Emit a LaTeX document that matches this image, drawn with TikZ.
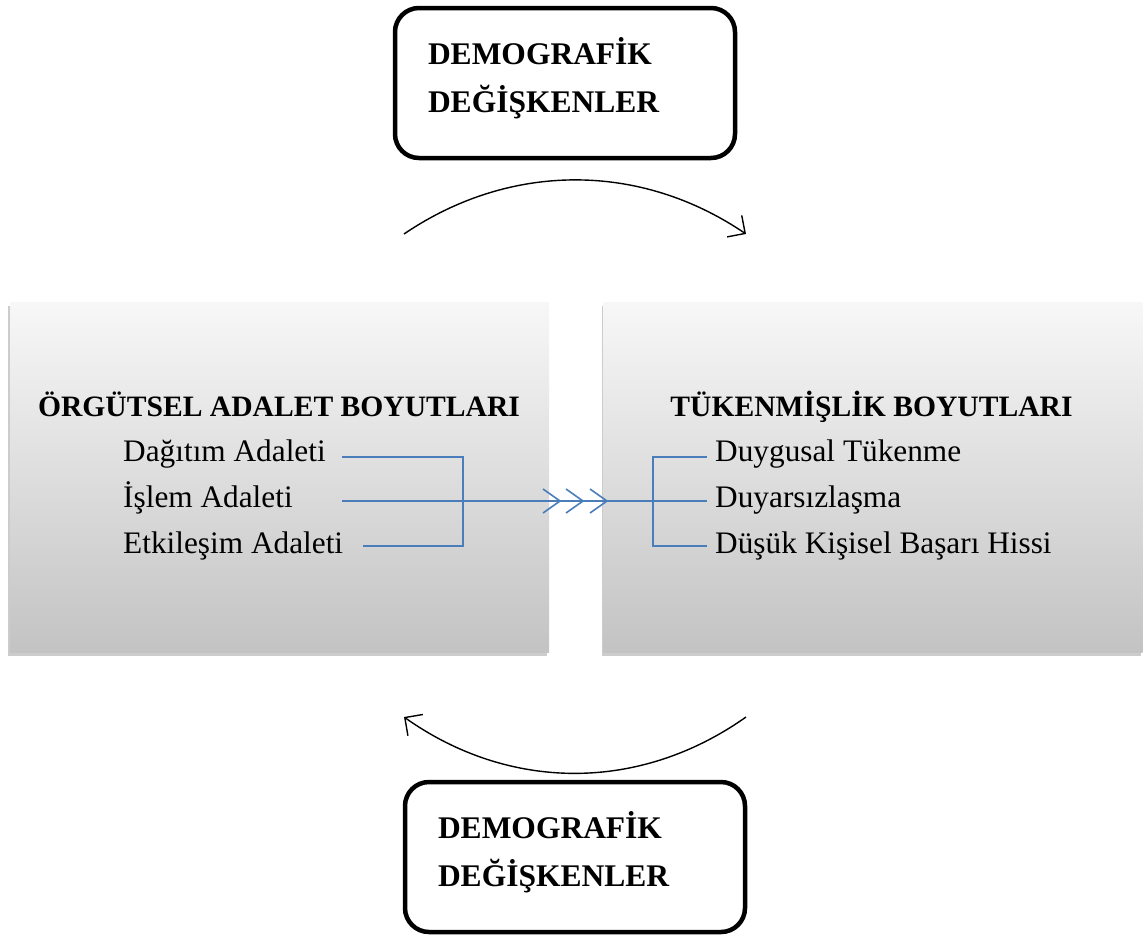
\documentclass[tikz,border=0pt]{standalone}
\usepackage{fontspec}
\setmainfont{Liberation Serif}
\usetikzlibrary{shadows,arrows.meta}
\definecolor{lineblue}{HTML}{4A7EBB}
\tikzset{
  demobox/.style={draw=black, line width=4.5pt, rounded corners=24pt, fill=white,
    minimum width=340pt, minimum height=150pt, text width=274pt, align=left,
    font=\fontsize{31.5}{48}\selectfont\bfseries, inner sep=0pt},
  panel/.style={minimum width=539pt, minimum height=350pt, inner sep=0pt,
    top color=gray!6, bottom color=gray!47, draw=none,
    drop shadow={shadow xshift=-2pt, shadow yshift=-3.5pt, opacity=0.4, fill=gray}},
  heading/.style={font=\fontsize{29.6}{32}\selectfont\bfseries, inner sep=0pt},
  item/.style={font=\fontsize{31.3}{34}\selectfont, inner sep=0pt, anchor=base west},
  blueline/.style={draw=lineblue, line width=1.6pt},
  curvearrow/.style={line width=1.4pt, -{Straight Barb[length=13pt,width=26pt,line width=1.4pt]}}
}
\begin{document}
\begin{tikzpicture}[x=1pt,y=-1pt]
\useasboundingbox (0,0) rectangle (1148,935);
% panels
\node[panel] (left) at (279.5,477) {};
\node[panel] (right) at (873,477) {};
% headings
\node[heading, anchor=base] (lh) at (279,416) {ÖRGÜTSEL ADALET BOYUTLARI};
\node[heading, anchor=base] (rh) at (871.5,416) {TÜKENMİŞLİK BOYUTLARI};
% left items
\node[item] (l1) at (123,461) {Dağıtım Adaleti};
\node[item] (l2) at (123,507) {İşlem Adaleti};
\node[item] (l3) at (123,553) {Etkileşim Adaleti};
% right items
\node[item] (r1) at (715,461) {Duygusal Tükenme};
\node[item] (r2) at (715,507) {Duyarsızlaşma};
\node[item] (r3) at (715,553) {Düşük Kişisel Başarı Hissi};
% blue bracket connectors
\coordinate (lj) at (463,501);
\coordinate (rj) at (653,501);
\draw[blueline] (342,457) -| (lj);
\draw[blueline] (363,546) -| (lj);
\draw[blueline] (342,501) -- (lj) -- (rj);
\draw[blueline] (707,457) -| (rj);
\draw[blueline] (707,546) -| (rj);
\draw[blueline] (rj) -- (707,501);
\foreach \x in {560,583,607}{
  \draw[blueline] (\x-17,489) -- (\x,501) -- (\x-17,513);
}
% demographic boxes
\node[demobox] (top) at (565,83) {DEMOGRAFİK\\DEĞİŞKENLER\\[-46pt]\strut};
\node[demobox] (bot) at (575,857) {DEMOGRAFİK\\DEĞİŞKENLER\\[-46pt]\strut};
% curved arrows
\coordinate (ta) at (404,234);
\coordinate (tb) at (746,234);
\coordinate (ba) at (746,717);
\coordinate (bb) at (404,717);
\draw[curvearrow] (ta) .. controls (510,162) and (640,162) .. (tb);
\draw[curvearrow] (ba) .. controls (640,792) and (510,792) .. (bb);
\end{tikzpicture}
\end{document}
